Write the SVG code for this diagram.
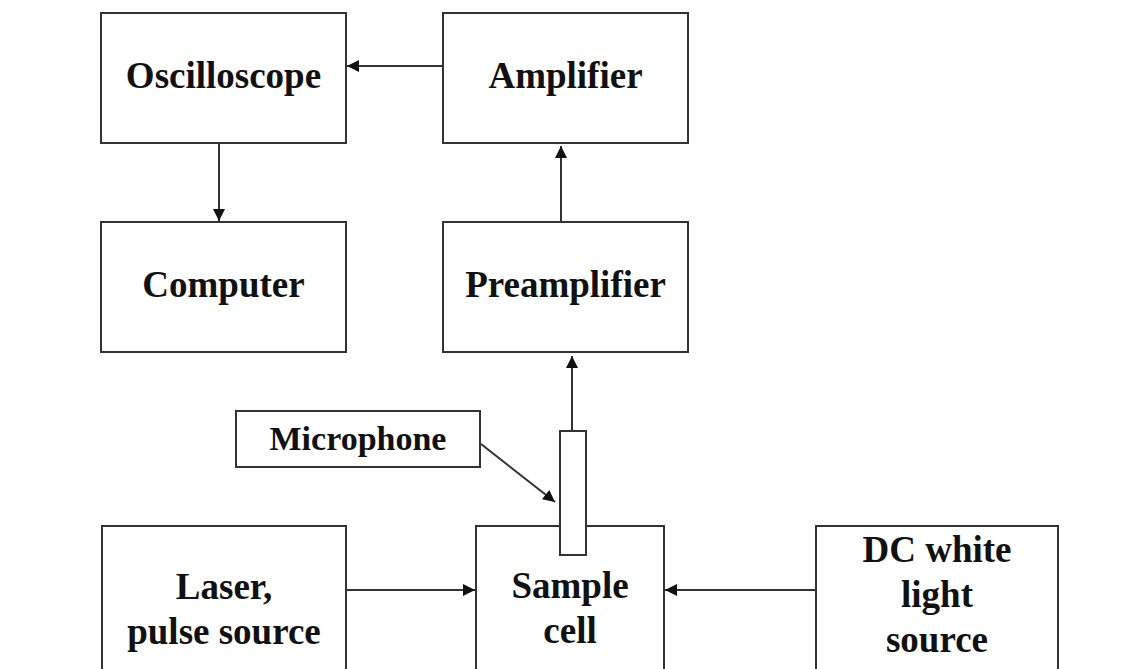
<svg xmlns="http://www.w3.org/2000/svg" width="1145" height="669" viewBox="0 0 1145 669">
<style>
.box{fill:#ffffff;stroke:#333333;stroke-width:2}
.lbl{font-family:"Liberation Serif","Times New Roman",serif;font-weight:bold;font-size:37px;fill:#111111;text-anchor:middle}
.mic{font-size:34px}
.conn{stroke:#333333;stroke-width:2;fill:none;marker-end:url(#arr)}
</style>
<defs>
<marker id="arr" viewBox="0 0 10 10" refX="10" refY="5" markerWidth="6" markerHeight="6" markerUnits="strokeWidth" orient="auto">
<path d="M0,0 L10,5 L0,10 z" fill="#111111"/>
</marker>
</defs>
<rect width="1145" height="669" fill="#ffffff"/>
<g id="oscilloscope"><rect class="box" x="101" y="13" width="245" height="130"/><text class="lbl" x="223.5" y="88">Oscilloscope</text></g>
<g id="amplifier"><rect class="box" x="443" y="13" width="245" height="130"/><text class="lbl" x="565.5" y="88">Amplifier</text></g>
<g id="computer"><rect class="box" x="101" y="222" width="245" height="130"/><text class="lbl" x="223.5" y="297">Computer</text></g>
<g id="preamplifier"><rect class="box" x="443" y="222" width="245" height="130"/><text class="lbl" x="565.5" y="297">Preamplifier</text></g>
<g id="laser"><rect class="box" x="102" y="526" width="244" height="180"/><text class="lbl" x="224" y="599">Laser,</text><text class="lbl" x="224" y="644">pulse source</text></g>
<g id="sample-cell"><rect class="box" x="476" y="526" width="188" height="180"/><text class="lbl" x="570" y="598">Sample</text><text class="lbl" x="570" y="643">cell</text></g>
<g id="dc-light"><rect class="box" x="816" y="526" width="242" height="180"/><text class="lbl" x="937" y="562">DC white</text><text class="lbl" x="937" y="607">light</text><text class="lbl" x="937" y="652">source</text></g>
<g id="microphone-tube"><rect class="box" x="560" y="431" width="26" height="124"/></g>
<g id="microphone"><rect class="box" x="236" y="411" width="244" height="56"/><text class="lbl mic" x="358" y="450">Microphone</text></g>
<g id="connectors">
<line class="conn" x1="443" y1="66" x2="347" y2="66"/>
<line class="conn" x1="219" y1="143" x2="219" y2="221"/>
<line class="conn" x1="561" y1="222" x2="561" y2="146"/>
<line class="conn" x1="572" y1="431" x2="572" y2="356"/>
<line class="conn" x1="481" y1="444" x2="555" y2="502"/>
<line class="conn" x1="346" y1="590" x2="475" y2="590"/>
<line class="conn" x1="816" y1="590" x2="665" y2="590"/>
</g>
</svg>
